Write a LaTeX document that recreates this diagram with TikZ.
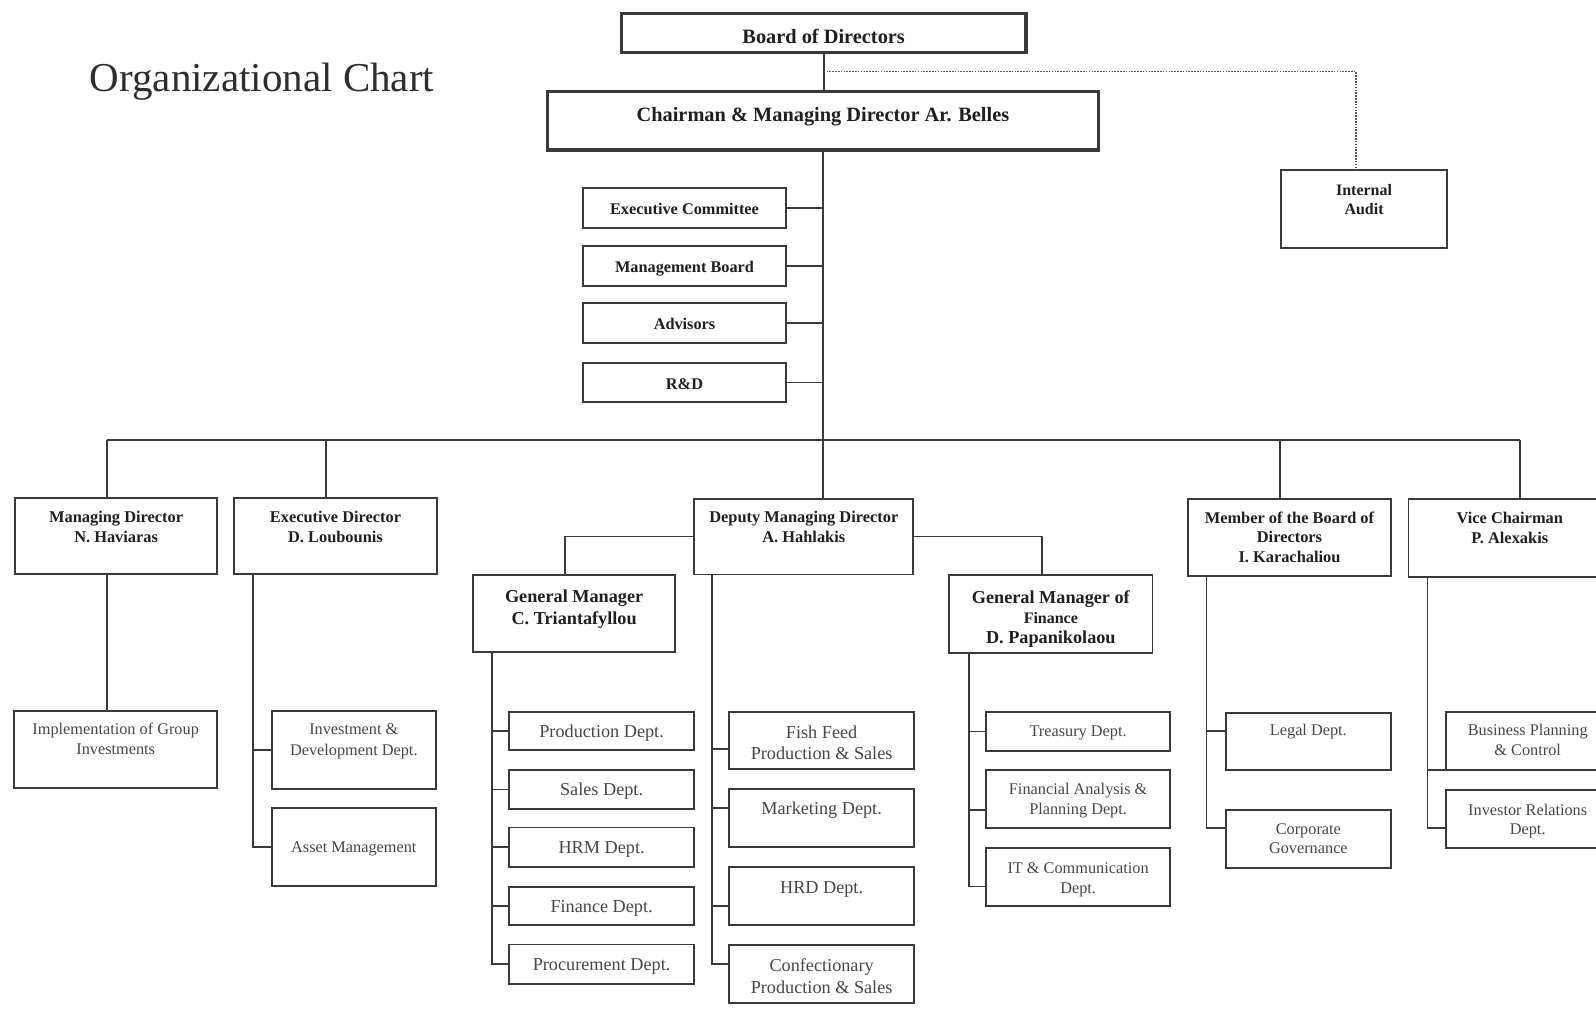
\documentclass[tikz,border=0pt]{standalone}
\usepackage{fontspec}
\setmainfont{Liberation Serif}
\usetikzlibrary{calc}
\definecolor{lc}{HTML}{3A3A3A}
\definecolor{tb}{HTML}{1F1F1F}
\definecolor{tr}{HTML}{474747}
\definecolor{tx}{HTML}{2E2E2E}
\newcommand{\bt}[4]{\parbox[c][#2pt][t]{#1pt}{\centering\rule{0pt}{#3pt}#4\par}}
\tikzset{
  bx/.style={draw=lc, line width=1.8pt, inner sep=0pt, outer sep=0pt, anchor=north west},
  topbox/.style={bx, line width=3.2pt, text=tb, font=\fontsize{20}{24}\selectfont\bfseries},
  staffbox/.style={bx, text=tb, font=\fontsize{16}{19.6}\selectfont\bfseries},
  headbox/.style={bx, text=tb, font=\fontsize{16.1}{19.6}\selectfont\bfseries},
  gmbox/.style={bx, text=tb, font=\fontsize{17.9}{21.7}\selectfont\bfseries},
  deptbig/.style={bx, text=tr, font=\fontsize{17.9}{21.5}\selectfont},
  deptsmall/.style={bx, text=tr, font=\fontsize{16}{19.8}\selectfont},
  conn/.style={draw=lc, line width=1.8pt},
  auditlink/.style={draw=lc!85, line width=1.6pt, dash pattern=on 1.6pt off 1.2pt},
}
\begin{document}
\begin{tikzpicture}[x=1pt,y=-1pt]
\useasboundingbox (0,0) rectangle (1568,995);
\clip (0,0) rectangle (1568,995);
\fill[white] (0,0) rectangle (1568,995);

% title
\node[anchor=base west, inner sep=0pt, text=tx, font=\fontsize{40.3}{48}\selectfont] (title) at (88,90) {Organizational Chart};

% top
\node[topbox] (bd) at (610.5,13.1) {\bt{397.4}{38.6}{29.5}{Board of Directors}};
\node[topbox] (ch) at (537.8,90) {\bt{541.4}{57.4}{29.5}{Chairman \& Managing Director Ar. Belles}};
\node[staffbox, font=\fontsize{15.7}{19.6}\selectfont\bfseries] (ia) at (1258.5,167) {\bt{163.3}{76.3}{24.6}{Internal\\Audit}};

% staff
\node[staffbox] (ec) at (573,184.4) {\bt{199}{39.3}{26.5}{Executive Committee}};
\node[staffbox] (mb) at (573,241.7) {\bt{199}{39.3}{26.5}{Management Board}};
\node[staffbox] (adv) at (573,297.4) {\bt{199}{39.2}{26.5}{Advisors}};
\node[staffbox] (rd) at (573,357) {\bt{199}{37.6}{25.5}{R\&D}};

% level 2
\node[headbox] (md) at (14.7,489.5) {\bt{198.8}{74.7}{23.6}{Managing Director\\N. Haviaras}};
\node[headbox] (ed) at (230.2,489.5) {\bt{198.8}{74.7}{23.6}{Executive Director\\D. Loubounis}};
\node[headbox] (dmd) at (682.1,489.9) {\bt{215.2}{74.5}{23.4}{Deputy Managing Director\\A. Hahlakis}};
\node[headbox, font=\fontsize{16.1}{19.4}\selectfont\bfseries] (mbd) at (1167.2,490) {\bt{199.3}{75.9}{24}{Member of the Board of\\Directors\\I. Karachaliou}};
\node[headbox] (vc) at (1383.8,490) {\bt{199}{76.5}{24}{Vice Chairman\\P. Alexakis}};

% general managers
\node[gmbox] (gmt) at (465,565.1) {\bt{198.1}{75.7}{26.7}{General Manager\\C. Triantafyllou}};
\node[gmbox, font=\fontsize{17.9}{19.8}\selectfont\bfseries] (gmf) at (932.5,564.9) {\bt{199.8}{76.9}{27.8}{General Manager of\\{\fontsize{15.7}{19.8}\selectfont Finance}\\D. Papanikolaou}};

% managing director / executive director depts
\node[deptsmall, font=\fontsize{16}{20.3}\selectfont] (impl) at (13.8,698.2) {\bt{199.7}{76.3}{23.2}{Implementation of Group\\Investments}};
\node[deptsmall, font=\fontsize{16}{21.3}\selectfont] (inv) at (266.9,698.5) {\bt{161.4}{76.9}{22.9}{Investment \&\\Development Dept.}};
\node[deptsmall] (asset) at (266.9,793.5) {\bt{161.4}{76.9}{44.2}{Asset Management}};

% Triantafyllou depts
\node[deptbig] (prod) at (500,699.7) {\bt{182.1}{37.3}{24.6}{Production Dept.}};
\node[deptbig] (sales) at (500,756.4) {\bt{182.1}{38.4}{25.2}{Sales Dept.}};
\node[deptbig] (hrm) at (500,812.9) {\bt{182.1}{38.6}{25.3}{HRM Dept.}};
\node[deptbig] (fin) at (500,871.3) {\bt{182.1}{37.7}{24.9}{Finance Dept.}};
\node[deptbig] (proc) at (500,928) {\bt{182.1}{38.4}{25.2}{Procurement Dept.}};

% Deputy depts
\node[deptbig] (fish) at (716.5,699.1) {\bt{181.4}{56.7}{26}{Fish Feed\\Production \& Sales}};
\node[deptbig] (mkt) at (716.5,775.4) {\bt{181.4}{56.4}{25.1}{Marketing Dept.}};
\node[deptbig] (hrd) at (716.5,851.4) {\bt{181.4}{57.3}{26.5}{HRD Dept.}};
\node[deptbig] (conf) at (716.5,928.4) {\bt{181.4}{56.8}{26.5}{Confectionary\\Production \& Sales}};

% Finance depts
\node[deptsmall, font=\fontsize{16}{19.5}\selectfont] (tre) at (968.7,699.8) {\bt{181}{37.7}{24.2}{Treasury Dept.}};
\node[deptsmall, font=\fontsize{16}{19.5}\selectfont] (fa) at (968.7,756.4) {\bt{181}{57.4}{24.6}{Financial Analysis \&\\Planning Dept.}};
\node[deptsmall, font=\fontsize{16}{19.5}\selectfont] (it) at (968.7,833.4) {\bt{181}{56.6}{24.6}{IT \& Communication\\Dept.}};

% Member depts
\node[deptsmall] (legal) at (1204.3,700.1) {\bt{162.2}{56.3}{22.5}{Legal Dept.}};
\node[deptsmall, font=\fontsize{16}{19.5}\selectfont] (corp) at (1204.3,795.7) {\bt{162.2}{57.3}{23.7}{Corporate\\Governance}};

% Vice chairman depts
\node[deptsmall, font=\fontsize{16}{20}\selectfont] (bp) at (1420.8,699.8) {\bt{160.2}{56.9}{22.5}{Business Planning\\\& Control}};
\node[deptsmall, font=\fontsize{16}{19}\selectfont] (ir) at (1420.8,776.1) {\bt{160.2}{57.3}{24.6}{Investor Relations\\Dept.}};

% coordinates
\coordinate (dotc) at (1332,70.4);
\coordinate (busL) at (105.2,432.3);
\coordinate (busR) at (1493.6,432.3);
\coordinate (edx) at (320.2,432.3);
\coordinate (mbx) at (1257.2,432.3);
\coordinate (edv) at (248.9,600);
\coordinate (gtx) at (555.1,540);
\coordinate (gfx) at (1024.1,540);
\coordinate (tv) at (483.7,700);
\coordinate (dv) at (699.2,700);
\coordinate (fv) at (952.2,700);
\coordinate (mv) at (1185.3,700);
\coordinate (vv) at (1402.4,700);

% connectors
\draw[conn] (bd.south) -- (bd.south |- ch.north);
\draw[conn] (ch.south) -- (ch.south |- dmd.north);
\draw[auditlink] (dotc -| bd.south) -- (dotc) -- (dotc |- ia.north);
\foreach \n in {ec,mb,adv,rd} {\draw[conn] (\n.east) -- (\n.east -| ch.south);}
\draw[conn] (busL) -- (busR);
\draw[conn] (busL) -- (busL |- md.north);
\draw[conn] (edx) -- (edx |- ed.north);
\draw[conn] (mbx) -- (mbx |- mbd.north);
\draw[conn] (busR) -- (busR |- vc.north);
\draw[conn] (busL |- md.south) -- (busL |- impl.north);
\draw[conn] (ed.south -| edv) |- (inv.west);
\draw[conn] (ed.south -| edv) |- (asset.west);
\draw[conn] (dmd.west) -| (gtx |- gmt.north);
\draw[conn] (dmd.east) -| (gfx |- gmf.north);
\foreach \n in {prod,sales,hrm,fin,proc} {\draw[conn] (gmt.south -| tv) |- (\n.west);}
\draw[conn] (dmd.south -| dv) |- ([yshift=-8.7pt]fish.west);
\draw[conn] (dmd.south -| dv) |- ([yshift=9.5pt]mkt.west);
\draw[conn] (dmd.south -| dv) |- ([yshift=-9.9pt]hrd.west);
\draw[conn] (dmd.south -| dv) |- ([yshift=9.8pt]conf.west);
\draw[conn] (gmf.south -| fv) |- (tre.west);
\draw[conn] (gmf.south -| fv) |- ([yshift=-10.6pt]fa.west);
\draw[conn] (gmf.south -| fv) |- ([yshift=-9.3pt]it.west);
\draw[conn] (mbd.south -| mv) |- ([yshift=10.4pt]legal.west);
\draw[conn] (mbd.south -| mv) |- ([yshift=10.5pt]corp.west);
\draw[conn] (vc.south -| vv) |- (bp.south west);
\draw[conn] (vc.south -| vv) |- ([yshift=-9pt]ir.west);
\end{tikzpicture}
\end{document}
